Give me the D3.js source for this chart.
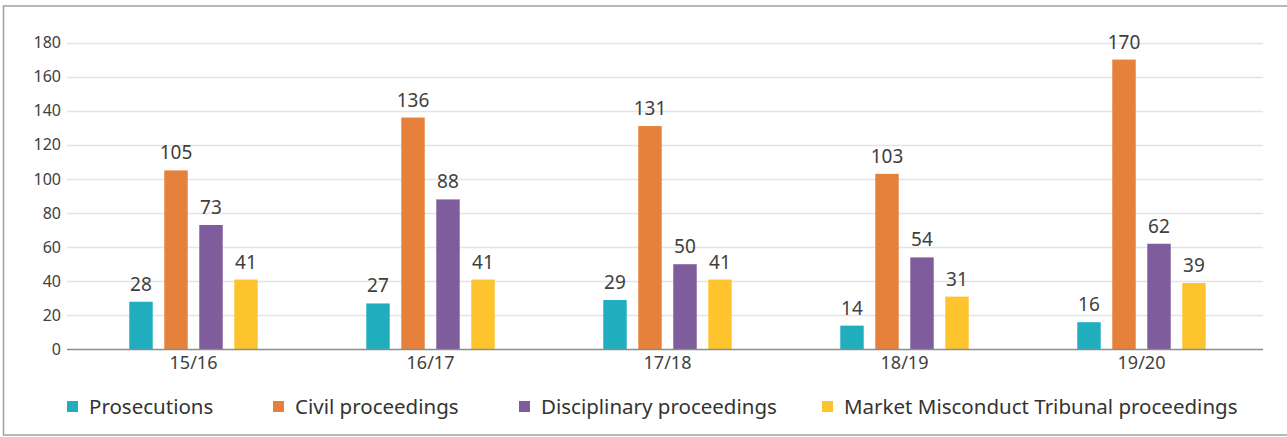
<!DOCTYPE html>
<html>
  <head>
    <script src="https://d3js.org/d3.v7.min.js" charset="utf-8"></script>
    <meta charset="UTF-8">
    <title>proceedings chart</title>
    <style>
      body { margin: 0; background: #fff; }
      svg { display: block; font-family: "Noto Sans", "Open Sans", sans-serif; }
    </style>
  </head>
  <body>
    <svg class="chart"></svg>
    <script type="text/javascript">

     var width = 1287,
         height = 437;

     var years = ["15/16", "16/17", "17/18", "18/19", "19/20"];
     var seriesNames = ["Prosecutions", "Civil proceedings", "Disciplinary proceedings",
                        "Market Misconduct Tribunal proceedings"];
     var seriesColors = ["#20aebf", "#e5813a", "#7f5c9c", "#fec42e"];

     var prosecutions = [28, 27, 29, 14, 16];
     var civil = [105, 136, 131, 103, 170];
     var disciplinary = [73, 88, 50, 54, 62];
     var tribunal = [41, 41, 41, 31, 39];

     var yTicks = [0, 20, 40, 60, 80, 100, 120, 140, 160, 180];

     var series = [prosecutions, civil, disciplinary, tribunal];

     var chart = d3.select(".chart")
                   .attr("width", width)
                   .attr("height", height);

     // outer frame (right edge runs off the picture)
     chart.append("rect")
          .attr("x", 3.5).attr("y", 6)
          .attr("width", 1300).attr("height", 429)
          .attr("fill", "none")
          .attr("stroke", "#a0a0a0")
          .attr("stroke-width", 1.5);

     var gridLeft = 67, gridRight = 1263;

     var y = d3.scaleLinear()
               .domain([0, 180])
               .range([349.5, 42.5]);

     var x = d3.scaleBand()
               .domain(years)
               .range([75, 1260])
               .paddingInner(0.458)
               .paddingOuter(0.229);

     var xInner = d3.scaleBand()
                    .domain(d3.range(series.length))
                    .range([0, x.bandwidth()])
                    .paddingInner(0.33);

     // gridlines
     chart.append("g")
          .selectAll("line")
          .data(yTicks.filter(function(d) { return d > 0; }))
          .enter().append("line")
          .attr("x1", gridLeft).attr("x2", gridRight)
          .attr("y1", function(d) { return Math.round(y(d)) + 0.5; })
          .attr("y2", function(d) { return Math.round(y(d)) + 0.5; })
          .attr("stroke", "#e4e4e4")
          .attr("stroke-width", 1.5);

     // y axis labels
     var yAxis = d3.axisLeft(y).tickValues(yTicks).tickSize(0).tickPadding(0);
     var yg = chart.append("g")
                   .attr("transform", "translate(61,0)")
                   .call(yAxis);
     yg.select(".domain").remove();
     yg.selectAll("text")
       .attr("font-family", "Noto Sans, sans-serif")
       .attr("font-size", 16)
       .attr("fill", "#404040");

     // bars
     var groups = chart.append("g")
                       .selectAll("g")
                       .data(years)
                       .enter().append("g")
                       .attr("transform", function(d) { return "translate(" + x(d) + ",0)"; });

     groups.selectAll("rect")
           .data(function(d, i) { return series.map(function(s, k) { return {k: k, v: s[i]}; }); })
           .enter().append("rect")
           .attr("x", function(d) { return xInner(d.k); })
           .attr("width", xInner.bandwidth())
           .attr("y", function(d) { return y(d.v); })
           .attr("height", function(d) { return y(0) - y(d.v); })
           .attr("fill", function(d) { return seriesColors[d.k]; });

     groups.selectAll("text")
           .data(function(d, i) { return series.map(function(s, k) { return {k: k, v: s[i]}; }); })
           .enter().append("text")
           .attr("x", function(d) { return xInner(d.k) + xInner.bandwidth() / 2; })
           .attr("y", function(d) { return y(d.v) - 11; })
           .attr("text-anchor", "middle")
           .attr("font-size", 19)
           .attr("fill", "#404040")
           .text(function(d) { return d.v; });

     // baseline
     chart.append("line")
          .attr("x1", gridLeft).attr("x2", gridRight)
          .attr("y1", y(0)).attr("y2", y(0))
          .attr("stroke", "#8c8c8c")
          .attr("stroke-width", 1.5);

     // category labels
     var xAxis = d3.axisBottom(x).tickSize(0).tickPadding(0);
     var xg = chart.append("g")
                   .attr("transform", "translate(0,356)")
                   .call(xAxis);
     xg.select(".domain").remove();
     xg.selectAll("text")
       .attr("font-family", "Noto Sans, sans-serif")
       .attr("font-size", 18)
       .attr("fill", "#404040");

     // legend, item starts as laid out in the original
     var legendX = [67, 273, 519, 822];
     var legend = chart.append("g");
     seriesNames.forEach(function(name, k) {
         var item = legend.append("g").attr("transform", "translate(" + legendX[k] + ",0)");
         item.append("rect")
             .attr("x", 0).attr("y", 401)
             .attr("width", 11).attr("height", 11)
             .attr("fill", seriesColors[k]);
         item.append("text")
             .attr("x", 22).attr("y", 414)
             .attr("font-size", 20.5)
             .attr("fill", "#333")
             .text(name);
     });

    </script>
  </body>
</html>
